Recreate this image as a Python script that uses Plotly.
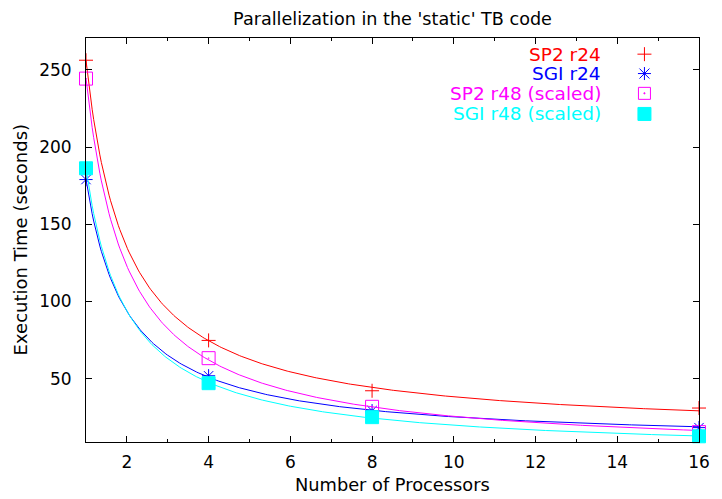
import numpy as np
import plotly.graph_objects as go

# ---- data ----
processors = [1, 4, 8, 16]
sp2_r24 = [256.3, 74.8, 42.2, 31.0]
sgi_r24 = [179.0, 51.9, 29.3, 18.3]
sp2_r48_scaled = [244.4, 63.3, 31.8, 15.4]
sgi_r48_scaled = [186.3, 47.1, 25.1, 12.7]

series_names = ["SP2 r24", "SGI r24", "SP2 r48 (scaled)", "SGI r48 (scaled)"]
series_values = [sp2_r24, sgi_r24, sp2_r48_scaled, sgi_r48_scaled]
series_colors = ["#ff0000", "#0000ff", "#ff00ff", "#00ffff"]
series_symbols = ["cross-thin-open", "asterisk-open", "square-open-dot", "square"]
series_sizes = [10, 11, 13, 13]

x_ticks = [2, 4, 6, 8, 10, 12, 14, 16]
y_ticks = [50, 100, 150, 200, 250]

FONT = "DejaVu Sans"

fig = go.Figure()

xs = np.array(processors, dtype=float)
xfine = np.linspace(1, 16, 400)
A = np.vstack([1.0 / xs, np.ones_like(xs)]).T
for name, vals, col, sym, sz in zip(series_names, series_values, series_colors,
                                    series_symbols, series_sizes):
    coef, *_ = np.linalg.lstsq(A, np.array(vals), rcond=None)
    fig.add_trace(go.Scatter(
        x=processors, y=vals, mode="markers", name=name, showlegend=False,
        marker=dict(symbol=sym, size=sz, color=col,
                    line=dict(color=col, width=1)),
        cliponaxis=False))
    fig.add_trace(go.Scatter(
        x=xfine, y=coef[0] / xfine + coef[1], mode="lines", showlegend=False,
        line=dict(color=col, width=1), hoverinfo="skip"))

# ---- gnuplot-style key: text right-aligned, symbol on the right ----
key_text_x = 0.843
key_sym_x = 0.911
key_rows = [0.960, 0.912, 0.863, 0.812]
sym_paths = [
    ["M-7,0 L7,0 M0,-7 L0,7"],
    ["M-6.5,0 L6.5,0 M0,-6.5 L0,6.5 M-5,-5 L5,5 M-5,5 L5,-5"],
    ["M-6,-6 L6,-6 L6,6 L-6,6 Z", "M-0.5,-0.5 L0.5,-0.5 L0.5,0.5 L-0.5,0.5 Z"],
    ["M-6.5,-6.5 L6.5,-6.5 L6.5,6.5 L-6.5,6.5 Z"],
]
shapes = []
annotations = []
for i, (name, col) in enumerate(zip(series_names, series_colors)):
    annotations.append(dict(
        text=name, x=key_text_x, y=key_rows[i], xref="paper", yref="paper",
        xanchor="right", yanchor="middle", showarrow=False,
        font=dict(family=FONT, size=18.5, color=col)))
    for j, p in enumerate(sym_paths[i]):
        filled = (i == 3) or (i == 2 and j == 1)
        shapes.append(dict(
            type="path", path=p, xref="paper", yref="paper",
            xsizemode="pixel", ysizemode="pixel",
            xanchor=key_sym_x, yanchor=key_rows[i],
            line=dict(color=col, width=1),
            fillcolor=col if filled else "rgba(0,0,0,0)"))

annotations.append(dict(
    text="Number of Processors", x=0.5, y=-0.1056, xref="paper", yref="paper",
    xanchor="center", yanchor="middle", showarrow=False,
    font=dict(family=FONT, size=17.8, color="black")))
annotations.append(dict(
    text="Execution Time (seconds)", x=-0.107, y=0.5, xref="paper", yref="paper",
    xanchor="center", yanchor="middle", textangle=-90, showarrow=False,
    font=dict(family=FONT, size=18, color="black")))

# the page body has an 8px margin, so the figure is sized/offset to compensate
fig.update_layout(
    width=714, height=491,
    margin=dict(l=78, r=20.5, t=30, b=56.7, pad=0),
    paper_bgcolor="white", plot_bgcolor="white",
    font=dict(family=FONT, size=17, color="black"),
    title=dict(text="Parallelization in the 'static' TB code",
               x=0.5, xref="paper", y=0.9786, yref="container",
               xanchor="center", yanchor="middle",
               font=dict(family=FONT, size=17.6, color="black")),
    xaxis=dict(range=[1, 16], tickvals=x_ticks, ticks="inside", ticklen=6,
               tickcolor="black", showline=True, linecolor="black", linewidth=1,
               mirror="allticks", showgrid=False, zeroline=False,
               ticklabelstandoff=5,
               minor=dict(tickvals=[3, 5, 7, 9, 11, 13, 15], ticks="inside",
                          ticklen=3, tickcolor="black", showgrid=False)),
    yaxis=dict(range=[9.0, 270.7], tickvals=y_ticks, ticks="inside", ticklen=6,
               tickcolor="black", showline=True, linecolor="black", linewidth=1,
               mirror="allticks", showgrid=False, zeroline=False,
               ticklabelstandoff=10),
    shapes=shapes,
    annotations=annotations,
)

fig.write_html("out.html")
